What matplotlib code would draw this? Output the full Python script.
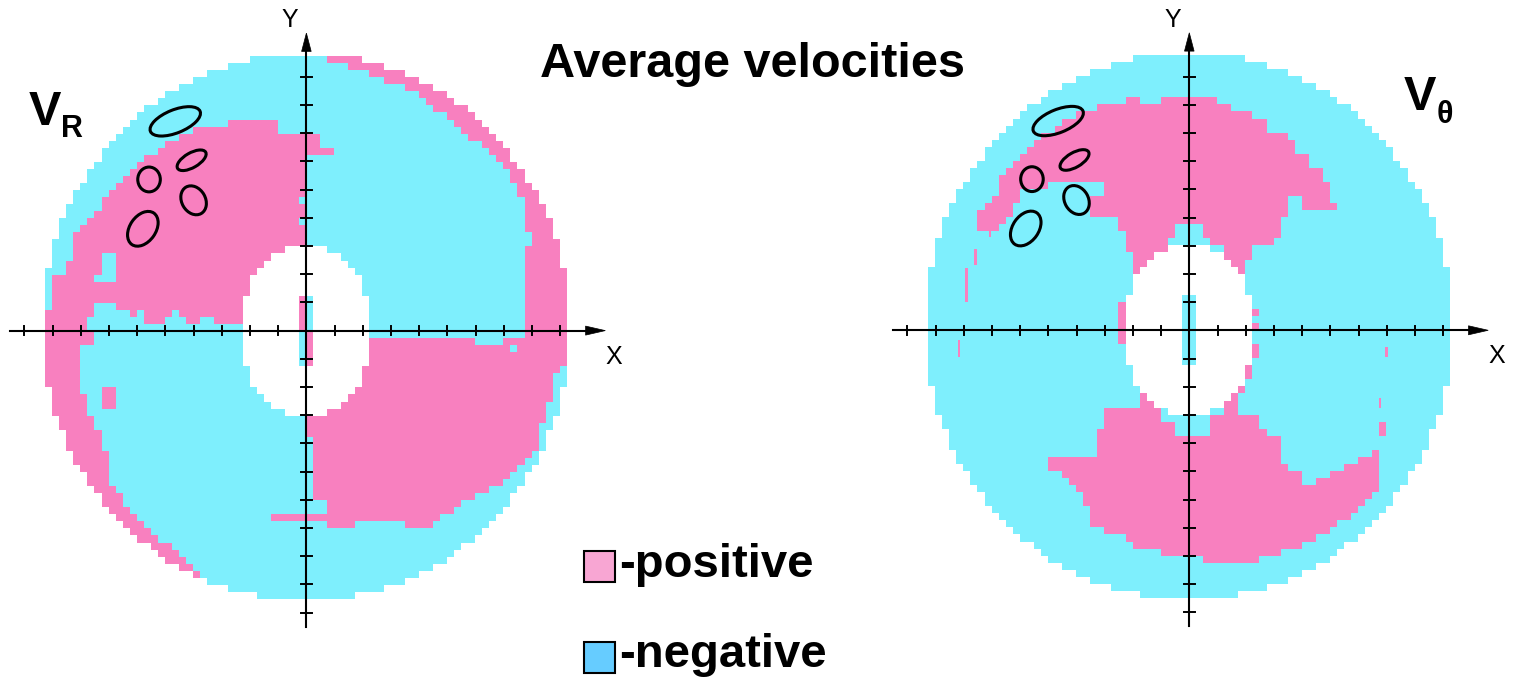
import numpy as np
import matplotlib.pyplot as plt
from matplotlib.path import Path
from matplotlib.patches import Ellipse, Rectangle, Polygon
from matplotlib.colors import ListedColormap

plt.rcParams['font.family'] = ['Liberation Sans', 'DejaVu Sans']

# --- colours ---
CYAN = '#7EEFFD'
PINK = '#F880BF'
LEG_PINK = '#F8A6D3'
LEG_CYAN = '#66CCFF'

# --- measurement domain (in tick units) ---
DISK_A, DISK_B, DISK_Y0 = 9.35, 9.7, 0.13     # outer boundary
HOLE_A, HOLE_B, HOLE_P = 2.25, 2.95, 2.5      # central hole (superellipse)
STRIP_W, STRIP_H = 0.25, 1.35                 # probe strip inside the hole
CELL = 0.25

# --- V_R sign map: outlines painted in order over a negative background ---
VR_POS_LEFT = [(0, 7.0), (-1.06, 7.0), (-1.06, 7.5), (-1.42, 7.5), (-1.42, 7.45),
               (-2.66, 7.45), (-2.66, 7.23), (-3.72, 7.23), (-4.9, 6.7), (-5.7, 6.15),
               (-6.4, 5.45), (-7.15, 4.7), (-7.65, 3.9), (-8.15, 3.45), (-8.2, 3.2),
               (-8.2, 2.66), (-8.4, 2.6), (-8.4, 2.07), (-8.95, 2.07), (-8.95, 1.24),
               (-9.1, 1.24), (-9.1, 0.65), (-11, 0.65), (-11, -11), (0, -11)]
VR_NEG_LOWER_LEFT = [(0, 0), (-2.2, 0), (-2.2, 0.3), (-3.3, 0.3), (-3.3, 0.53),
                     (-3.8, 0.53), (-3.8, 0.3), (-4.25, 0.3), (-4.25, 0.53), (-4.5, 0.53),
                     (-4.5, 0.77), (-4.85, 0.77), (-4.85, 0.53), (-5.08, 0.53),
                     (-5.08, 0.3), (-5.7, 0.3), (-5.7, 0.77), (-6.03, 0.77),
                     (-6.03, 0.47), (-6.2, 0.47), (-6.2, 0.83), (-6.7, 0.83),
                     (-6.7, 1.06), (-7.57, 1.06), (-7.57, 0.53), (-7.8, 0.53),
                     (-7.8, 0.0), (-7.57, 0.0), (-7.57, -0.47), (-8.04, -0.47),
                     (-8.04, -1.05), (-7.85, -2.35), (-7.57, -3.1), (-7.29, -3.8),
                     (-7.05, -4.4), (-7.0, -5.3), (-6.52, -5.95), (-6.03, -6.7),
                     (-5.54, -7.1), (-4.81, -7.6), (-4.28, -8.2), (-3.79, -8.45),
                     (-3.79, -11), (0, -11)]
VR_POS_LOWER_RIGHT = [(0, 0), (2.2, 0), (2.2, -0.3), (5.97, -0.3), (5.97, -0.55),
                      (7.1, -0.55), (7.1, -0.3), (11, -0.3), (11, -1.15), (8.98, -1.15),
                      (8.98, -1.55), (8.75, -1.55), (8.75, -2.5), (8.55, -2.5),
                      (8.55, -3.3), (8.2, -3.3), (8.2, -4.0), (8.0, -4.5), (7.5, -4.95),
                      (7.0, -5.3), (6.25, -5.8), (5.75, -6.0), (5.2, -6.4), (4.7, -6.6),
                      (4.4, -6.95), (3.65, -6.95), (3.1, -6.8), (1.95, -6.75),
                      (1.6, -6.95), (0.55, -6.85), (-1.2, -6.75), (-1.2, -6.45),
                      (0.85, -6.45), (0.85, -5.95), (0.25, -5.95), (0.25, -3.75),
                      (0, -3.75)]
VR_POS_RIGHT_RIM = [(0.8, 11), (0.8, 9.5), (2.0, 9.3), (2.8, 8.9), (3.45, 8.65),
                    (4.15, 8.3), (4.65, 7.85), (5.4, 7.35), (5.8, 6.9), (6.6, 6.35),
                    (7.1, 5.8), (7.35, 5.3), (7.75, 4.6), (7.8, -0.3), (11, -0.3),
                    (11, 11)]
VR_POS_AXIS_TOP = [(0, 7.0), (0.5, 7.0), (0.5, 6.6), (1.0, 6.6), (1.0, 6.35), (0, 6.35)]
VR_NEG_PATCH_A = [(-7.33, 2.78), (-6.68, 2.78), (-6.68, 1.65), (-7.57, 1.65),
                  (-7.57, 2.07), (-7.33, 2.07)]
VR_NEG_PATCH_B = [(7.7, 2.98), (8.05, 2.98), (8.05, 3.45), (7.7, 3.45)]
VR_NEG_PATCH_C = [(-0.25, 4.45), (0, 4.45), (0, 4.8), (-0.25, 4.8)]
VR_NEG_PATCH_D = [(-0.25, 3.75), (0, 3.75), (0, 4.1), (-0.25, 4.1)]
VR_NEG_PATCH_E = [(7.2, -0.43), (7.56, -0.43), (7.56, -0.78), (7.2, -0.78)]
VR_POS_PATCH_F = [(-7.15, -2.07), (-6.8, -2.07), (-6.8, -2.66), (-7.15, -2.66)]

VR_LAYERS = [(1, VR_POS_LEFT), (0, VR_NEG_LOWER_LEFT), (1, VR_POS_LOWER_RIGHT),
             (1, VR_POS_RIGHT_RIM), (1, VR_POS_AXIS_TOP), (0, VR_NEG_PATCH_A),
             (0, VR_NEG_PATCH_B), (0, VR_NEG_PATCH_C), (0, VR_NEG_PATCH_D),
             (0, VR_NEG_PATCH_E), (1, VR_POS_PATCH_F)]
VR_THIN = []

# --- V_theta sign map ---
VT_POS_UPPER = [(-2.19, 8.18), (-1.76, 8.18), (-1.76, 7.94), (-0.97, 7.94), (-0.97, 8.18),
                (0.91, 8.18), (0.91, 7.92), (1.41, 7.92), (1.41, 7.68), (2.14, 7.68),
                (2.14, 7.42), (2.64, 7.42), (2.64, 6.91), (3.43, 6.91), (3.43, 6.68),
                (3.72, 6.68), (3.72, 6.21), (4.16, 6.21), (4.16, 5.79), (4.66, 5.79),
                (4.66, 5.2), (4.95, 5.2), (4.95, 4.43), (5.17, 4.43), (5.17, 4.31),
                (4.08, 4.31), (4.08, 4.79), (3.45, 4.79), (3.45, 4.08), (3.21, 4.08),
                (3.21, 3.31), (2.98, 3.31), (2.98, 3.07), (2.21, 3.07), (2.21, 2.42),
                (1.97, 2.42), (1.97, 1.65), (1.44, 1.65), (1.44, 2.0), (-1.69, 2.0),
                (-1.69, 1.7), (-1.93, 1.7), (-1.93, 2.36), (-2.22, 2.84), (-2.22, 3.19),
                (-2.46, 3.55), (-2.46, 4.08), (-3.5, 4.08), (-3.5, 4.73), (-2.93, 4.73),
                (-2.93, 5.35), (-4.88, 5.35), (-5.1, 4.9), (-6.0, 4.9), (-6.06, 4.6),
                (-6.3, 4.14), (-6.6, 3.84), (-6.83, 3.6), (-7.42, 3.6), (-7.42, 4.14),
                (-6.95, 4.67), (-6.65, 5.44), (-6.42, 5.67), (-6.18, 5.91),
                (-5.71, 6.38), (-5.44, 6.74), (-4.72, 7.2), (-3.78, 7.68),
                (-2.99, 7.94)]
VT_NEG_NECK = [(-0.8, 2.4), (-0.8, 3.2), (-0.57, 3.2), (-0.57, 3.84), (0.56, 3.84),
               (0.56, 3.3), (0.97, 3.0), (1.32, 2.78), (1.32, 2.4)]
VT_POS_LOWER = [(-1.69, -2.1), (-1.28, -2.1), (-1.28, -2.84), (-1.1, -2.84), (-1.1, -3.3),
                (-0.6, -3.3), (-0.6, -3.84), (0.85, -3.84), (0.85, -3.07), (1.32, -3.07),
                (1.32, -2.2), (1.68, -2.2), (1.68, -3.07), (2.45, -3.07), (2.45, -3.6),
                (2.68, -3.6), (2.68, -3.84), (3.2, -3.84), (3.2, -4.85), (3.45, -4.85),
                (3.45, -5.08), (3.92, -5.08), (3.92, -5.6), (4.58, -5.6), (4.58, -5.32),
                (5.05, -5.32), (5.05, -5.08), (5.57, -5.08), (5.57, -4.85), (6.04, -4.85),
                (6.04, -4.61), (6.45, -4.61), (6.45, -4.14), (6.65, -4.14), (6.65, -3.6),
                (6.82, -3.31), (7.0, -3.31), (7.0, -3.6), (6.7, -3.7), (6.7, -5.67),
                (6.47, -5.67), (6.47, -5.97), (6.23, -5.97), (6.23, -6.2), (5.93, -6.2),
                (5.93, -6.44), (5.7, -6.44), (5.7, -6.7), (5.22, -6.7), (5.22, -6.97),
                (4.99, -6.97), (4.99, -7.2), (4.46, -7.2), (4.46, -7.44), (3.98, -7.44),
                (3.98, -7.68), (3.2, -7.68), (3.2, -7.92), (2.42, -7.92), (2.42, -8.2),
                (0.4, -8.2), (0.4, -8.0), (-0.97, -8.0), (-0.97, -7.74), (-1.98, -7.68),
                (-2.19, -7.45), (-2.7, -7.21), (-3.42, -6.97), (-3.49, -6.44),
                (-3.71, -6.15), (-3.92, -5.67), (-4.21, -5.44), (-4.43, -5.2),
                (-4.72, -4.96), (-4.94, -4.85), (-4.94, -4.61), (-3.42, -4.61),
                (-3.2, -3.84), (-2.99, -3.07), (-2.99, -2.84), (-1.69, -2.84)]
VT_POS_HOLE_L = [(-2.5, -0.6), (-2.25, -0.6), (-2.25, 0.95), (-2.5, 0.95)]
VT_POS_HOLE_R1 = [(2.25, 0.5), (2.5, 0.5), (2.5, 0.75), (2.25, 0.75)]
VT_POS_HOLE_R2 = [(2.25, 0.0), (2.5, 0.0), (2.5, 0.25), (2.25, 0.25)]
VT_POS_HOLE_R3 = [(2.2, -0.5), (2.45, -0.5), (2.45, -0.95), (2.2, -0.95)]
VT_POS_HOLE_R4 = [(1.95, -1.2), (2.2, -1.2), (2.2, -1.65), (1.95, -1.65)]
VT_POS_HOLE_R5 = [(1.7, -1.95), (1.95, -1.95), (1.95, -2.2), (1.7, -2.2)]

VT_LAYERS = [(1, VT_POS_UPPER), (0, VT_NEG_NECK), (1, VT_POS_LOWER), (1, VT_POS_HOLE_L),
             (1, VT_POS_HOLE_R1), (1, VT_POS_HOLE_R2), (1, VT_POS_HOLE_R3),
             (1, VT_POS_HOLE_R4), (1, VT_POS_HOLE_R5)]

# thin positive streaks narrower than one cell: x, y, width, height
VT_THIN = [(-7.62, 2.3, 0.1, 0.6), (-7.95, 1.0, 0.1, 1.2), (-8.2, -0.95, 0.08, 0.6),
           (-7.1, 3.3, 0.08, 0.3), (6.95, -0.95, 0.08, 0.35), (6.72, -2.75, 0.08, 0.35)]

# --- outlined zones (same on both maps): centre x, centre y, width, height, angle ---
ZONES = [(-4.65, 7.42, 1.9, 0.82, 22),
         (-4.07, 6.04, 1.15, 0.52, 30),
         (-5.58, 5.36, 0.8, 0.88, 0),
         (-4.0, 4.62, 1.08, 0.84, -60),
         (-5.8, 3.61, 1.36, 0.92, 55)]

X_TICKS = [k for k in range(-10, 10) if k != 0]
Y_TICKS = [k for k in range(-10, 10) if k != 0]


def build_map(layers):
    edges = np.arange(-10.0, 10.0 + CELL, CELL)
    centres = 0.5 * (edges[:-1] + edges[1:])
    gx, gy = np.meshgrid(centres, centres)
    pts = np.column_stack([gx.ravel(), gy.ravel()])
    z = np.zeros(gx.shape)
    for val, poly in layers:
        inside = Path(poly).contains_points(pts).reshape(gx.shape)
        z[inside] = val
    outside = (gx / DISK_A) ** 2 + ((gy - DISK_Y0) / DISK_B) ** 2 > 1.0
    hole = np.abs(gx / HOLE_A) ** HOLE_P + np.abs(gy / HOLE_B) ** HOLE_P <= 1.0
    strip = (np.abs(gx) < STRIP_W) & (np.abs(gy) < STRIP_H)
    z[outside | (hole & ~strip)] = np.nan
    return edges, np.ma.masked_invalid(z)


# --- figure layout: 28.2 px per tick unit ---
W, H, DPI = 1518, 681, 100
SCALE = 28.2
XLIM = (-10.8, 11.3)
YLIM = (-12.0, 11.7)

fig = plt.figure(figsize=(W / DPI, H / DPI), dpi=DPI)
cmap = ListedColormap([CYAN, PINK])


def draw_panel(cx, cy, layers, thin):
    left = (cx + SCALE * XLIM[0]) / W
    bottom = (H - (cy - SCALE * YLIM[0])) / H
    ax = fig.add_axes([left, bottom, SCALE * (XLIM[1] - XLIM[0]) / W,
                       SCALE * (YLIM[1] - YLIM[0]) / H])
    ax.set_axis_off()
    ax.patch.set_alpha(0)

    edges, z = build_map(layers)
    ax.imshow(z, origin='lower', extent=(edges[0], edges[-1], edges[0], edges[-1]),
              cmap=cmap, vmin=0, vmax=1, interpolation='nearest', aspect='auto', zorder=1)
    for x0, y0, w, h in thin:
        ax.add_patch(Rectangle((x0, y0), w, h, fc=PINK, ec='none', zorder=2))

    for x0, y0, w, h, ang in ZONES:
        ax.add_patch(Ellipse((x0, y0), w, h, angle=ang, fill=False, ec='black',
                             lw=2.2, zorder=3))

    # coordinate axes with arrows and ticks
    ax.plot([-10.5, 10.0], [0, 0], color='black', lw=1.5, zorder=4)
    ax.plot([0, 0], [-10.5, 10.0], color='black', lw=1.5, zorder=4)
    ax.add_patch(Polygon([(10.6, 0), (9.9, 0.16), (9.9, -0.16)], closed=True,
                         fc='black', ec='black', lw=0.5, zorder=4))
    ax.add_patch(Polygon([(0, 10.55), (-0.17, 9.9), (0.17, 9.9)], closed=True,
                         fc='black', ec='black', lw=0.5, zorder=4))
    for k in X_TICKS:
        ax.plot([k, k], [-0.16, 0.16], color='black', lw=1.4, zorder=4)
    for k in Y_TICKS:
        ax.plot([-0.2, 0.2], [k, k], color='black', lw=1.4, zorder=4)

    ax.text(-0.58, 11.0, 'Y', ha='center', va='center', fontsize=18)
    ax.text(10.91, -0.92, 'X', ha='center', va='center', fontsize=18, clip_on=False)
    ax.set_xlim(*XLIM)
    ax.set_ylim(*YLIM)
    return ax


draw_panel(306.4, 330.6, VR_LAYERS, VR_THIN)
draw_panel(1189.3, 330.3, VT_LAYERS, VT_THIN)

# panel labels
fig.text(29 / W, 1 - 125 / H, 'V', fontsize=35, fontweight='bold', va='baseline')
fig.text(61 / W, 1 - 137 / H, 'R', fontsize=22, fontweight='bold', va='baseline')
fig.text(1404 / W, 1 - 110 / H, 'V', fontsize=35, fontweight='bold', va='baseline')
fig.text(1437 / W, 1 - 123 / H, 'θ', fontsize=22, fontweight='bold', va='baseline')

fig.text(753 / W, 1 - 76.7 / H, 'Average velocities', ha='center', va='baseline',
         fontsize=35, fontweight='bold')

# legend
for ytop, fc, label, base in [(551, LEG_PINK, '-positive', 576.7),
                              (642, LEG_CYAN, '-negative', 666.7)]:
    fig.add_artist(Rectangle((584 / W, 1 - (ytop + 31) / H), 31 / W, 31 / H,
                             transform=fig.transFigure, fc=fc, ec='black', lw=1.5))
    fig.text(619 / W, 1 - base / H, label, fontsize=34, fontweight='bold', va='baseline')

fig.savefig('out.png', dpi=DPI)
